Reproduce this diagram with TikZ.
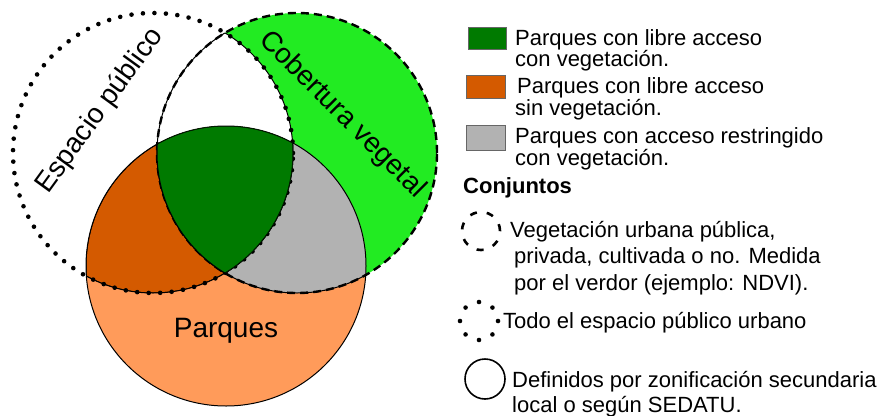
\documentclass[tikz,border=0pt]{standalone}
\usepackage{fontspec}
\setmainfont{Liberation Sans}

\definecolor{verdeclaro}{RGB}{34,235,34}
\definecolor{verdeosc}{RGB}{0,122,0}
\definecolor{naranjaosc}{RGB}{212,90,0}
\definecolor{naranjaclaro}{RGB}{255,155,90}
\definecolor{gris}{RGB}{178,178,178}

\def\pathesp{(153pt,-153pt) circle (140pt)}
\def\pathcob{(297pt,-153pt) circle (140pt)}
\def\pathpar{(226pt,-266pt) circle (140pt)}

\tikzset{
  espacio/.style={line width=4.6pt, dash pattern=on 0pt off 11.5pt, line cap=round},
  cobertura/.style={line width=2.4pt, dash pattern=on 8pt off 5pt},
  borde/.style={line width=1pt},
  caja/.style={draw=black!60, line width=0.8pt},
  leyenda/.style={anchor=base west, inner sep=0pt, font=\fontsize{22pt}{22pt}\selectfont},
  etiqueta/.style={inner sep=0pt, font=\fontsize{28pt}{28pt}\selectfont}
}

\begin{document}
\begin{tikzpicture}

  \useasboundingbox (0pt,0pt) rectangle (880pt,-415pt);

  % regiones
  \fill[verdeclaro] \pathcob;
  \begin{scope}
    \clip \pathesp;
    \fill[white] \pathcob;
  \end{scope}
  \fill[naranjaclaro] \pathpar;
  \begin{scope}
    \clip \pathpar;
    \fill[naranjaosc] \pathesp;
    \fill[gris] \pathcob;
    \clip \pathesp;
    \fill[verdeosc] \pathcob;
  \end{scope}

  % bordes interiores
  \draw[borde] \pathpar;
  \begin{scope}
    \clip \pathcob;
    \draw[borde] \pathesp;
  \end{scope}
  \begin{scope}
    \clip \pathesp;
    \draw[borde] \pathcob;
  \end{scope}
  \begin{scope}
    \clip \pathpar;
    \draw[borde] \pathesp;
    \draw[borde] \pathcob;
  \end{scope}

  % conjuntos
  \draw[espacio] \pathesp;
  \draw[cobertura] \pathcob;

  \begin{scope}
    \clip \pathpar;
    \clip \pathesp;
    \fill[verdeosc] \pathcob;
    \draw[borde] \pathcob;
    \draw[borde] \pathesp;
    \draw[borde] \pathpar;
  \end{scope}

  \node[etiqueta, rotate=54] (esp) at (100pt,-111pt) {Espacio público};
  \node[etiqueta, rotate=-45] (cob) at (342pt,-115pt) {Cobertura vegetal};
  \node[etiqueta] (par) at (226pt,-331pt) {Parques};

  % leyenda
  \draw[caja, fill=verdeosc] (468pt,-27pt) rectangle (506pt,-49pt);
  \node[leyenda] (g1) at (515pt,-45pt) {Parques con libre acceso};
  \node[leyenda] (g2) at (515pt,-66pt) {con vegetación.};
  \draw[caja, fill=naranjaosc] (466pt,-75pt) rectangle (505pt,-98pt);
  \node[leyenda] (o1) at (517pt,-93pt) {Parques con libre acceso};
  \node[leyenda] (o2) at (515pt,-115pt) {sin vegetación.};
  \draw[caja, fill=gris] (466pt,-125pt) rectangle (505pt,-150pt);
  \node[leyenda] (s1) at (515pt,-143pt) {Parques con acceso restringido};
  \node[leyenda] (s2) at (515pt,-165pt) {con vegetación.};
  \node[leyenda, font=\fontsize{22pt}{22pt}\selectfont\bfseries] (conj) at (463pt,-193pt) {Conjuntos};

  \draw[cobertura, line width=2.6pt, dash pattern=on 7pt off 10pt] (481pt,-231pt) circle (19pt);
  \node[leyenda] (c1) at (510pt,-237pt) {Vegetación urbana pública,};
  \node[leyenda] (c2) at (514pt,-263pt) {privada, cultivada o no. Medida};
  \node[leyenda] (c3) at (514pt,-290pt) {por el verdor (ejemplo: NDVI).};

  \draw[espacio, dash pattern=on 0pt off 14.9pt] (479pt,-321pt) circle (19pt);
  \node[leyenda] (e1) at (503pt,-328pt) {Todo el espacio público urbano};

  \draw[line width=1.6pt] (485pt,-379pt) circle (20pt);
  \node[leyenda] (p1) at (512pt,-387pt) {Definidos por zonificación secundaria};
  \node[leyenda] (p2) at (512pt,-412pt) {local o según SEDATU.};

\end{tikzpicture}
\end{document}
